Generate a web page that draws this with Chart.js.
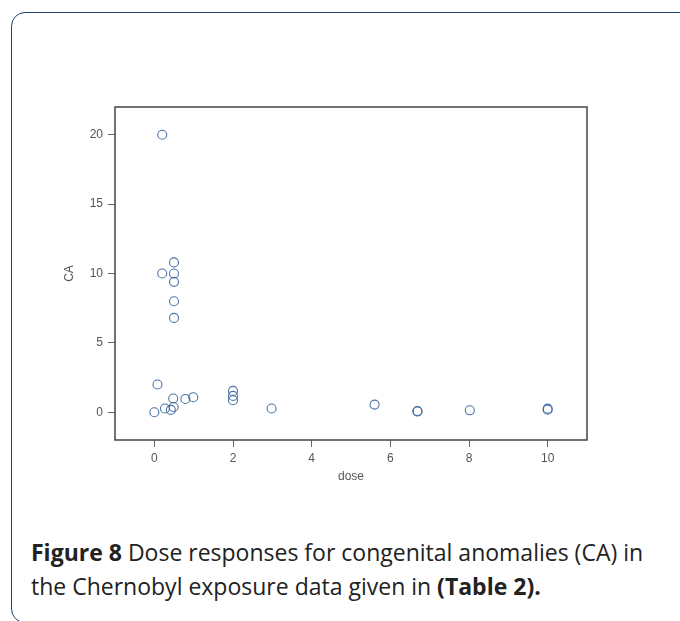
<!DOCTYPE html>
<html>
<head>
<meta charset="utf-8">
<script src="https://cdn.jsdelivr.net/npm/chart.js@4.4.0/dist/chart.umd.min.js"></script>
<style>
  body { margin: 0; background: #fff; width: 680px; height: 621px; overflow: hidden; position: relative; }
  #frame { position: absolute; left: 11px; top: 12px; width: 700px; height: 609px;
           border: 1.5px solid #1e4470; border-radius: 14px; }
  #wrap { position: absolute; left: 0; top: 0; width: 680px; height: 484px; }
  #caption { position: absolute; left: 31px; top: 535px; width: 640px;
             font-family: "Open Sans", sans-serif; font-size: 23px; line-height: 34px; color: #222; }
</style>
</head>
<body>
<div id="frame"></div>
<div id="wrap"><canvas id="doseChart"></canvas></div>
<div id="caption"><b>Figure 8</b> Dose responses for congenital anomalies (CA) in<br>the Chernobyl exposure data given in <b>(Table 2).</b></div>
<script>
// dose (x) and congenital anomalies (y)
const doses = [0.2, 0.2, 0.5, 0.5, 0.5, 0.5, 0.5, 0.08, 0, 0.27, 0.42, 0.49, 0.48, 0.79, 0.99, 2, 2, 2, 2.98, 5.6, 6.69, 6.69, 8.02, 10, 10];
const caValues = [20, 10, 10.8, 10, 9.4, 8, 6.8, 2, 0, 0.27, 0.17, 0.38, 0.99, 0.96, 1.08, 1.54, 1.18, 0.87, 0.27, 0.55, 0.05, 0.09, 0.14, 0.18, 0.26];
const xTicks = [0, 2, 4, 6, 8, 10];
const yTicks = [0, 5, 10, 15, 20];

const points = doses.map((d, i) => ({ x: d, y: caValues[i] }));

// box around the plot area
const boxPlugin = {
    id: 'box',
    afterDraw(chart) {
        const a = chart.chartArea;
        const c = chart.ctx;
        c.save();
        c.strokeStyle = '#444';
        c.lineWidth = 1.5;
        c.strokeRect(a.left, a.top, a.right - a.left, a.bottom - a.top);
        c.restore();
    }
};

const tickFont = { family: 'Arial, "Liberation Sans", sans-serif', size: 12 };

new Chart(document.getElementById('doseChart'), {
    type: 'scatter',
    data: {
        datasets: [{
            data: points,
            pointRadius: 4.5,
            pointHoverRadius: 4.5,
            pointBorderWidth: 1.1,
            pointBorderColor: 'rgba(55, 100, 160, 0.9)',
            pointBackgroundColor: 'rgba(0,0,0,0)'
        }]
    },
    plugins: [boxPlugin],
    options: {
        responsive: true,
        maintainAspectRatio: false,
        animation: false,
        layout: { padding: { top: 107, right: 93, left: 0, bottom: 0 } },
        plugins: { legend: { display: false }, tooltip: { enabled: false } },
        scales: {
            x: {
                type: 'linear',
                min: -1,
                max: 11,
                afterBuildTicks: s => { s.ticks = xTicks.map(v => ({ value: v })); },
                afterFit: s => { s.height = 44; },
                border: { display: false },
                grid: { drawOnChartArea: false, drawTicks: true, tickLength: 7, color: '#666' },
                ticks: { font: tickFont, color: '#555', padding: 4, maxRotation: 0 },
                title: { display: true, text: 'dose', font: tickFont, color: '#555', padding: { top: 0, bottom: 0 } }
            },
            y: {
                type: 'linear',
                min: -2,
                max: 22,
                afterBuildTicks: s => { s.ticks = yTicks.map(v => ({ value: v })); },
                afterFit: s => { s.width = 115; },
                border: { display: false },
                grid: { drawOnChartArea: false, drawTicks: true, tickLength: 7, color: '#666' },
                ticks: { font: tickFont, color: '#555', padding: 5 },
                title: { display: true, text: 'CA', font: tickFont, color: '#555', padding: { top: 62, bottom: 0 } }
            }
        }
    }
});
</script>
</body>
</html>
